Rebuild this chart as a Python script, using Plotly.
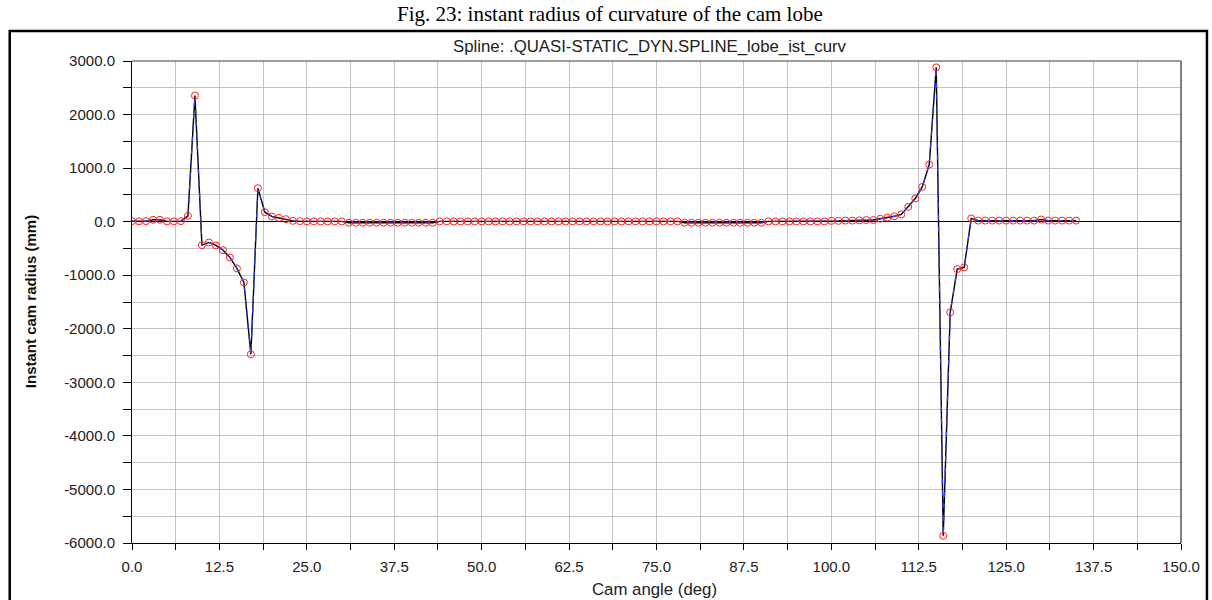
import plotly.graph_objects as go

# ---- data -------------------------------------------------------------
cam_angle_deg = [
    0, 1, 2, 3, 4, 5, 6, 7, 8, 9, 10, 11, 12, 13, 14, 15, 16, 17, 18, 19,
    20, 21, 22, 23, 24, 25, 26, 27, 28, 29, 30, 31, 32, 33, 34, 35, 36, 37, 38, 39,
    40, 41, 42, 43, 44, 45, 46, 47, 48, 49, 50, 51, 52, 53, 54, 55, 56, 57, 58, 59,
    60, 61, 62, 63, 64, 65, 66, 67, 68, 69, 70, 71, 72, 73, 74, 75, 76, 77, 78, 79,
    80, 81, 82, 83, 84, 85, 86, 87, 88, 89, 90, 91, 92, 93, 94, 95, 96, 97, 98, 99,
    100, 101, 102, 103, 104, 105, 106, 107, 108, 109, 110, 111, 112, 113, 114, 115, 116, 117, 118, 119,
    120, 121, 122, 123, 124, 125, 126, 127, 128, 129, 130, 131, 132, 133, 134, 135,
]

radius_mm = [
    10, 5, 10, 35, 35, 5, 5, 10, 108, 2354, -438, -388, -444, -532, -668, -873, -1134, -2477, 625, 177,
    97, 71, 47, 15, 10, 5, 5, 5, 5, 5, 5, -20, -20, -20, -20, -20, -20, -20, -20, -20,
    -20, -20, -20, -20, 5, 5, 5, 5, 5, 5, 5, 5, 5, 5, 5, 5, 5, 5, 5, 5,
    5, 5, 5, 5, 5, 5, 5, 5, 5, 5, 5, 5, 5, 5, 5, 5, 5, 5, 5, -20,
    -20, -20, -20, -20, -20, -20, -20, -20, -20, -20, -20, 5, 5, 5, 5, 5, 5, 5, 5, 5,
    15, 15, 20, 20, 25, 30, 30, 55, 75, 100, 135, 276, 433, 649, 1067, 2881, -5865, -1693, -886, -854,
    60, 20, 20, 20, 20, 20, 20, 20, 20, 20, 40, 20, 20, 20, 20, 20,
]

x_ticks = [0, 12.5, 25, 37.5, 50, 62.5, 75, 87.5, 100, 112.5, 125, 137.5, 150]
y_ticks = [3000, 2000, 1000, 0, -1000, -2000, -3000, -4000, -5000, -6000]

fig_title = "Fig. 23: instant radius of curvature of the cam lobe"
spline_title = "Spline: .QUASI-STATIC_DYN.SPLINE_lobe_ist_curv"
x_title = "Cam angle (deg)"
y_title = "Instant cam radius (mm)"

# ---- figure -----------------------------------------------------------
fig = go.Figure()
fig.add_trace(go.Scatter(
    x=cam_angle_deg, y=radius_mm, mode="lines",
    line=dict(color="black", width=1.4), hoverinfo="skip", showlegend=False))
fig.add_trace(go.Scatter(
    x=cam_angle_deg, y=radius_mm, mode="lines",
    line=dict(color="#2a3cff", width=1.2, dash="5px,7px"), hoverinfo="skip", showlegend=False))
fig.add_trace(go.Scatter(
    x=cam_angle_deg, y=radius_mm, mode="markers",
    marker=dict(symbol="circle-open", size=7, color="#ff2020", line=dict(width=1, color="#ff2020")),
    showlegend=False))

tick_font = dict(family="Liberation Sans, Arial", size=15, color="#222222")

fig.update_xaxes(
    range=[0, 150], tickmode="array", tickvals=x_ticks,
    ticktext=[f"{v:.1f}" for v in x_ticks],
    showgrid=True, gridcolor="#c4c4c4", gridwidth=1,
    minor=dict(dtick=6.25, tick0=0, showgrid=True, gridcolor="#c4c4c4", gridwidth=1,
               ticks="outside", ticklen=6, tickcolor="black"),
    ticks="outside", ticklen=6, tickcolor="black",
    showline=True, linecolor="black", linewidth=1,
    zeroline=False, tickfont=tick_font, ticklabelstandoff=4,
)
fig.update_yaxes(
    range=[-6000, 3000], tickmode="array", tickvals=y_ticks,
    ticktext=[f"{v:.1f}" for v in y_ticks],
    showgrid=True, gridcolor="#c4c4c4", gridwidth=1,
    minor=dict(dtick=500, tick0=0, showgrid=True, gridcolor="#c4c4c4", gridwidth=1,
               ticks="outside", ticklen=8, tickcolor="black"),
    ticks="outside", ticklen=8, tickcolor="black",
    showline=True, linecolor="black", linewidth=1,
    zeroline=True, zerolinecolor="black", zerolinewidth=1,
    tickfont=tick_font, ticklabelstandoff=5,
)

L, R, T, B = 132, 29, 61, 57
W, H = 1212, 600
pw, ph = W - L - R, H - T - B


def px_x(px):
    return (px - L) / pw


def px_y(py):
    return (H - B - py) / ph


fig.update_layout(
    width=W, height=H,
    margin=dict(l=L, r=R, t=T, b=B),
    paper_bgcolor="white", plot_bgcolor="white",
    showlegend=False,
    annotations=[
        dict(text=fig_title, xref="paper", yref="paper", x=px_x(611), y=px_y(14),
             xanchor="center", yanchor="middle", showarrow=False,
             font=dict(family="Liberation Serif, Times New Roman", size=21, color="black")),
        dict(text=spline_title, xref="paper", yref="paper", x=px_x(651), y=px_y(46),
             xanchor="center", yanchor="middle", showarrow=False,
             font=dict(family="Liberation Sans, Arial", size=16.8, color="#222222")),
        dict(text=x_title, xref="paper", yref="paper", x=px_x(655), y=px_y(589),
             xanchor="center", yanchor="middle", showarrow=False,
             font=dict(family="Liberation Sans, Arial", size=16.8, color="#222222")),
        dict(text="<b>" + y_title + "</b>", xref="paper", yref="paper", x=px_x(30), y=px_y(302),
             xanchor="center", yanchor="middle", showarrow=False, textangle=-90,
             font=dict(family="Liberation Sans, Arial", size=15, color="#111111")),
    ],
    shapes=[
        # outer frame
        dict(type="rect", xref="paper", yref="paper",
             x0=px_x(9.5), x1=px_x(1209), y0=px_y(610), y1=px_y(31),
             line=dict(color="black", width=2.5), fillcolor="rgba(0,0,0,0)", layer="above"),
        # top and right plot border (gray)
        dict(type="line", xref="paper", yref="paper", x0=0, x1=1, y0=1, y1=1,
             line=dict(color="#7a7a7a", width=1.5)),
        dict(type="line", xref="paper", yref="paper", x0=1, x1=1, y0=0, y1=1,
             line=dict(color="#555555", width=1.5)),
    ],
)

fig.write_html("out.html")
